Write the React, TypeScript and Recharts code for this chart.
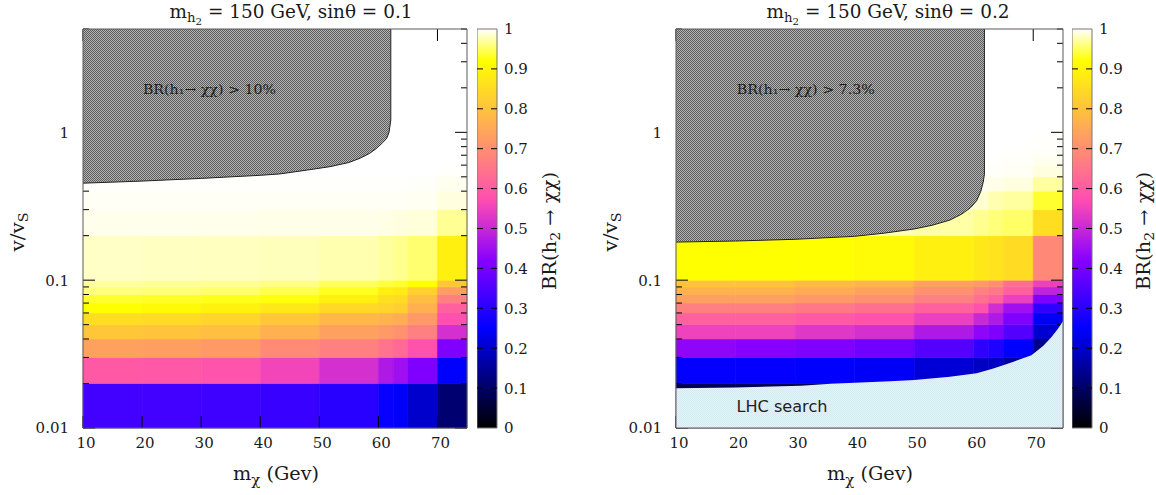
import React from 'react';
import { ComposedChart, XAxis, YAxis, ReferenceArea, ReferenceDot, ReferenceLine, Area } from 'recharts';

// ---------- data ----------
const mChiEdges = [10, 20, 30, 40, 50, 60, 62.5, 65, 70, 75];
const vRatioEdges = [0.01, 0.02, 0.03, 0.04, 0.05, 0.06, 0.07, 0.08, 0.09, 0.1, 0.2, 0.3, 0.4, 0.5, 0.6, 0.7, 0.8, 0.9, 1, 2, 3, 4, 5];

// BR(h2 -> chi chi), rows: v/vS bins bottom->top, cols: m_chi bins
const brSin01 = [
  [0.333, 0.332, 0.328, 0.32, 0.3, 0.26, 0.245, 0.2, 0.11],
  [0.595, 0.592, 0.585, 0.555, 0.515, 0.47, 0.45, 0.41, 0.25],
  [0.735, 0.73, 0.72, 0.69, 0.67, 0.645, 0.625, 0.58, 0.41],
  [0.81, 0.805, 0.795, 0.765, 0.735, 0.72, 0.705, 0.67, 0.515],
  [0.855, 0.85, 0.835, 0.81, 0.78, 0.77, 0.76, 0.72, 0.575],
  [0.92, 0.91, 0.895, 0.875, 0.845, 0.835, 0.825, 0.765, 0.61],
  [0.935, 0.932, 0.928, 0.924, 0.89, 0.86, 0.85, 0.79, 0.67],
  [0.96, 0.958, 0.955, 0.945, 0.93, 0.89, 0.88, 0.83, 0.73],
  [0.97, 0.968, 0.966, 0.962, 0.95, 0.94, 0.935, 0.92, 0.81],
  [0.982, 0.981, 0.98, 0.979, 0.975, 0.97, 0.965, 0.955, 0.89],
  [0.994, 0.994, 0.994, 0.993, 0.993, 0.992, 0.99, 0.988, 0.966],
  [0.997, 0.997, 0.997, 0.997, 0.997, 0.997, 0.997, 0.996, 0.99],
  [0.999, 0.999, 0.999, 0.999, 0.999, 0.999, 0.999, 0.998, 0.995],
  [1, 1, 1, 1, 1, 1, 1, 1, 0.999],
  [1, 1, 1, 1, 1, 1, 1, 1, 1],
  [1, 1, 1, 1, 1, 1, 1, 1, 1],
  [1, 1, 1, 1, 1, 1, 1, 1, 1],
  [1, 1, 1, 1, 1, 1, 1, 1, 1],
  [1, 1, 1, 1, 1, 1, 1, 1, 1],
  [1, 1, 1, 1, 1, 1, 1, 1, 1],
  [1, 1, 1, 1, 1, 1, 1, 1, 1],
  [1, 1, 1, 1, 1, 1, 1, 1, 1],
];

const brSin02 = [
  [0.085, 0.085, 0.08, 0.07, 0.06, 0.05, 0.05, 0.04, 0.03],
  [0.255, 0.255, 0.25, 0.245, 0.21, 0.19, 0.19, 0.16, 0.125],
  [0.43, 0.42, 0.41, 0.39, 0.355, 0.31, 0.29, 0.25, 0.14],
  [0.55, 0.55, 0.53, 0.515, 0.47, 0.43, 0.41, 0.355, 0.205],
  [0.61, 0.61, 0.595, 0.58, 0.545, 0.5, 0.47, 0.41, 0.24],
  [0.67, 0.67, 0.655, 0.64, 0.61, 0.58, 0.51, 0.45, 0.31],
  [0.735, 0.735, 0.72, 0.705, 0.67, 0.64, 0.61, 0.545, 0.41],
  [0.77, 0.77, 0.755, 0.74, 0.705, 0.67, 0.655, 0.61, 0.49],
  [0.8, 0.8, 0.785, 0.77, 0.735, 0.72, 0.7, 0.64, 0.545],
  [0.92, 0.92, 0.92, 0.91, 0.89, 0.875, 0.865, 0.85, 0.686],
  [0.98, 0.978, 0.977, 0.975, 0.972, 0.965, 0.958, 0.952, 0.855],
  [0.99, 0.99, 0.99, 0.99, 0.988, 0.985, 0.975, 0.97, 0.935],
  [0.996, 0.996, 0.996, 0.996, 0.996, 0.995, 0.993, 0.99, 0.97],
  [0.999, 0.999, 0.999, 0.999, 0.999, 0.999, 0.998, 0.997, 0.99],
  [1, 1, 1, 1, 1, 1, 0.999, 0.998, 0.995],
  [1, 1, 1, 1, 1, 1, 1, 0.999, 0.998],
  [1, 1, 1, 1, 1, 1, 1, 1, 0.999],
  [1, 1, 1, 1, 1, 1, 1, 1, 0.999],
  [1, 1, 1, 1, 1, 1, 1, 1, 1],
  [1, 1, 1, 1, 1, 1, 1, 1, 1],
  [1, 1, 1, 1, 1, 1, 1, 1, 1],
  [1, 1, 1, 1, 1, 1, 1, 1, 1],
];

// boundary of BR(h1 -> chi chi) exclusion (grey): m_chi, v/vS
const h1ExclSin01 = [
  { m: 10, v: 0.453 }, { m: 20, v: 0.468 }, { m: 30, v: 0.488 }, { m: 40, v: 0.512 },
  { m: 43.3, v: 0.523 }, { m: 48, v: 0.556 }, { m: 51.8, v: 0.586 }, { m: 55, v: 0.625 },
  { m: 56.9, v: 0.668 }, { m: 58.5, v: 0.72 }, { m: 59.7, v: 0.78 }, { m: 60.7, v: 0.85 },
  { m: 61.4, v: 0.91 }, { m: 61.8, v: 1.0 }, { m: 62.1, v: 1.21 }, { m: 62.1, v: 5 },
];
const h1ExclSin02 = [
  { m: 10, v: 0.181 }, { m: 20, v: 0.184 }, { m: 30, v: 0.189 }, { m: 40, v: 0.198 },
  { m: 45, v: 0.208 }, { m: 50, v: 0.222 }, { m: 53, v: 0.235 }, { m: 56, v: 0.255 },
  { m: 58, v: 0.28 }, { m: 59.5, v: 0.31 }, { m: 60.5, v: 0.345 }, { m: 61.2, v: 0.4 },
  { m: 61.6, v: 0.46 }, { m: 61.8, v: 0.52 }, { m: 61.8, v: 5 },
];
// LHC search exclusion (light blue), sinθ = 0.2
const lhcSin02 = [
  { m: 10, v: 0.0186 }, { m: 20, v: 0.0188 }, { m: 31, v: 0.0193 }, { m: 36, v: 0.0199 },
  { m: 41, v: 0.0203 }, { m: 46, v: 0.0207 }, { m: 50, v: 0.0211 }, { m: 56, v: 0.0222 },
  { m: 60.5, v: 0.0235 }, { m: 63.3, v: 0.0253 }, { m: 66.7, v: 0.0281 }, { m: 69.7, v: 0.031 },
  { m: 71.7, v: 0.036 }, { m: 73, v: 0.041 }, { m: 74, v: 0.046 }, { m: 74.6, v: 0.05 },
  { m: 75, v: 0.053 },
];

const xTicks = [10, 20, 30, 40, 50, 60, 70];
const yTicks = [0.01, 0.02, 0.03, 0.04, 0.05, 0.06, 0.07, 0.08, 0.09, 0.1, 0.2, 0.3, 0.4, 0.5, 0.6, 0.7, 0.8, 0.9, 1, 2, 3, 4, 5];
const yMajorTicks = [0.01, 0.1, 1];
const yMajorLabels = ['0.01', '0.1', '1'];
const cbTicks = [0, 0.1, 0.2, 0.3, 0.4, 0.5, 0.6, 0.7, 0.8, 0.9, 1];
const cbTickLabels = ['0', '0.1', '0.2', '0.3', '0.4', '0.5', '0.6', '0.7', '0.8', '0.9', '1'];

// ---------- palette (gnuplot rgbformulae 30,31,32) ----------
function palette(x: number): string {
  const c = (v: number) => Math.max(0, Math.min(1, v));
  const r = c(x / 0.32 - 0.78125);
  const g = c(2 * x - 0.84);
  let b: number;
  if (x < 0.25) b = 4 * x;
  else if (x < 0.42) b = 1;
  else if (x < 0.92) b = -2 * x + 1.84;
  else b = x / 0.08 - 11.5;
  b = c(b);
  return `rgb(${Math.round(r * 255)},${Math.round(g * 255)},${Math.round(b * 255)})`;
}

const SERIF = 'DejaVu Serif';
const SANS = 'DejaVu Sans';
const TICK_FS = 15;
const MAJOR = 12;
const MINOR = 6;

const num = (v: any) => Number(v);

const leftYLabel = (props: any) => {
  const { x, y, payload } = props;
  const idx = yMajorTicks.indexOf(payload.value);
  if (idx < 0) return <g />;
  return (
    <text x={num(x) - 14} y={num(y)} dy="0.36em" textAnchor="end" fontSize={TICK_FS} fontFamily={SERIF} fill="#1a1a1a">
      {yMajorLabels[idx]}
    </text>
  );
};
const bottomXLabel = (props: any) => {
  const { x, y, payload } = props;
  return (
    <text x={num(x) + 3} y={num(y) + 20} textAnchor="middle" fontSize={TICK_FS} fontFamily={SERIF} fill="#1a1a1a">
      {payload.value}
    </text>
  );
};
const cbLabel = (props: any) => {
  const { x, y, index } = props;
  return (
    <text x={num(x) + 7} y={num(y)} dy="0.36em" textAnchor="start" fontSize={TICK_FS} fontFamily={SERIF} fill="#1a1a1a">
      {cbTickLabels[index]}
    </text>
  );
};

// tick marks pointing inward at both ends of a reference line
const hTickShape = (len: number) => (s: any) => {
  const xa = Math.min(num(s.x1), num(s.x2));
  const xb = Math.max(num(s.x1), num(s.x2));
  const y = num(s.y1);
  return (
    <g>
      <line x1={xa} x2={xa + len} y1={y} y2={y} stroke="#000" strokeWidth={1} />
      <line x1={xb} x2={xb - len} y1={y} y2={y} stroke="#000" strokeWidth={1} />
    </g>
  );
};
const vTickShape = (len: number) => (s: any) => {
  const ya = Math.min(num(s.y1), num(s.y2));
  const yb = Math.max(num(s.y1), num(s.y2));
  const x = num(s.x1);
  return (
    <g>
      <line x1={x} x2={x} y1={ya} y2={ya + len} stroke="#000" strokeWidth={1} />
      <line x1={x} x2={x} y1={yb} y2={yb - len} stroke="#000" strokeWidth={1} />
    </g>
  );
};

type PanelProps = {
  left: number;
  width: number;
  yAxisWidth: number;
  marginRight: number;
  grid: number[][];
  data: any[];
  hasLhc: boolean;
  exclText: string;
  exclWidth: number;
  exclAt: { m: number; v: number };
  lhcAt?: { m: number; v: number };
};

const M_DOMAIN: [number, number] = [10, 75];
const V_DOMAIN: [number, number] = [0.01, 5];

function PlainAxes({ yAxisWidth }: { yAxisWidth: number }) {
  return null;
}

function Panel(p: PanelProps) {
  const margin = { top: 29, right: p.marginRight, bottom: 37, left: 0 };
  const plainX = <XAxis dataKey="m" type="number" domain={M_DOMAIN} allowDataOverflow height={30} tick={false} tickLine={false} axisLine={false} />;
  const plainY = <YAxis type="number" scale="log" domain={V_DOMAIN} allowDataOverflow width={p.yAxisWidth} tick={false} tickLine={false} axisLine={false} />;
  return (
    <>
      {/* layer 1: heat-map cells */}
      <div style={{ position: 'absolute', left: p.left, top: 0 }}>
        <ComposedChart width={p.width} height={495} data={p.data} margin={margin}>
          {plainX}
          {plainY}
          {p.grid.flatMap((row, i) =>
            row.map((val, j) => (
              <ReferenceArea
                key={`c${i}-${j}`}
                x1={mChiEdges[j]}
                x2={mChiEdges[j + 1]}
                y1={vRatioEdges[i]}
                y2={vRatioEdges[i + 1]}
                fill={palette(val)}
                fillOpacity={1}
                stroke={palette(val)}
                strokeWidth={0.6}
              />
            ))
          )}
        </ComposedChart>
      </div>
      {/* layer 2: axes labels and tick marks */}
      <div style={{ position: 'absolute', left: p.left, top: 0 }}>
        <ComposedChart width={p.width} height={495} data={p.data} margin={margin}>
          <XAxis dataKey="m" type="number" domain={M_DOMAIN} allowDataOverflow ticks={xTicks} interval={0} height={30}
            tick={bottomXLabel} tickLine={false} axisLine={false} tickSize={0} tickMargin={0} />
          <YAxis type="number" scale="log" domain={V_DOMAIN} allowDataOverflow ticks={yTicks} interval={0} width={p.yAxisWidth}
            tick={leftYLabel} tickLine={false} axisLine={false} tickSize={0} tickMargin={0} />
          {yTicks.map((v) => (
            <ReferenceLine key={`yt${v}`} y={v} stroke="none" ifOverflow="visible"
              shape={hTickShape(yMajorTicks.indexOf(v) >= 0 ? MAJOR : MINOR)} />
          ))}
          {xTicks.map((v) => (
            <ReferenceLine key={`xt${v}`} x={v} stroke="none" ifOverflow="visible" shape={vTickShape(MAJOR)} />
          ))}
        </ComposedChart>
      </div>
      {/* layer 3: exclusion regions, frame, annotations */}
      <div style={{ position: 'absolute', left: p.left, top: 0 }}>
        <ComposedChart width={p.width} height={495} data={p.data} margin={margin}>
          {plainX}
          {plainY}
          <Area dataKey="excl" type="linear" baseValue={5} fill="url(#hatchGrey)" fillOpacity={1} stroke="#222" strokeWidth={1}
            connectNulls dot={false} activeDot={false} isAnimationActive={false} />
          {p.hasLhc && (
            <Area dataKey="lhc" type="linear" baseValue={0.01} fill="url(#hatchLhc)" fillOpacity={1} stroke="none"
              connectNulls dot={false} activeDot={false} isAnimationActive={false} />
          )}
          <ReferenceArea x1={10} x2={75} y1={0.01} y2={5} fill="none" fillOpacity={0} stroke="#5a5a5a" strokeWidth={1} />
          <ReferenceDot
            x={p.exclAt.m}
            y={p.exclAt.v}
            r={1}
            shape={(s: any) => (
              <text x={s.cx} y={s.cy} dy="0.35em" textAnchor="middle" fontSize={13} fontFamily={SERIF} fill="#1e1e1e"
                textLength={p.exclWidth} lengthAdjust="spacingAndGlyphs">
                {p.exclText}
              </text>
            )}
          />
          {p.lhcAt && (
            <ReferenceDot
              x={p.lhcAt.m}
              y={p.lhcAt.v}
              r={1}
              shape={(s: any) => (
                <text x={s.cx} y={s.cy} dy="0.35em" textAnchor="middle" fontSize={15} fontFamily={SANS} fill="#1e1e1e"
                  textLength={91} lengthAdjust="spacingAndGlyphs">
                  LHC search
                </text>
              )}
            />
          )}
        </ComposedChart>
      </div>
    </>
  );
}

const cbData = [{ x: 0 }, { x: 1 }];

function ColorBar({ left }: { left: number }) {
  const margin = { top: 29, right: 0, bottom: 0, left: 0 };
  return (
    <>
      <div style={{ position: 'absolute', left, top: 0 }}>
        <ComposedChart width={60} height={495} data={cbData} margin={margin}>
          <XAxis dataKey="x" type="number" domain={[0, 1]} allowDataOverflow height={67} tick={false} tickLine={false} axisLine={false} />
          <YAxis orientation="right" type="number" domain={[0, 1]} allowDataOverflow width={40} tick={false} tickLine={false} axisLine={false} />
          <ReferenceArea x1={0} x2={1} y1={0} y2={1} fill="url(#cbGrad)" fillOpacity={1} stroke="none" ifOverflow="visible" />
        </ComposedChart>
      </div>
      <div style={{ position: 'absolute', left, top: 0 }}>
        <ComposedChart width={60} height={495} data={cbData} margin={margin}>
          <XAxis dataKey="x" type="number" domain={[0, 1]} allowDataOverflow height={67} tick={false} tickLine={false} axisLine={false} />
          <YAxis orientation="right" type="number" domain={[0, 1]} allowDataOverflow ticks={cbTicks} interval={0} width={40}
            tick={cbLabel} tickLine={false} axisLine={false} tickSize={0} tickMargin={0} />
          {cbTicks.slice(1, -1).map((v) => (
            <ReferenceLine key={`cb${v}`} y={v} stroke="none" ifOverflow="visible" shape={hTickShape(6)} />
          ))}
          <ReferenceArea x1={0} x2={1} y1={0} y2={1} fill="none" fillOpacity={0} stroke="#777" strokeWidth={1} ifOverflow="visible" />
        </ComposedChart>
      </div>
    </>
  );
}

function Title({ cx, value }: { cx: number; value: string }) {
  return (
    <text x={cx} y={18} textAnchor="middle" fontSize={18} fontFamily={SERIF} fill="#1a1a1a" textLength={243} lengthAdjust="spacingAndGlyphs">
      m<tspan dy={4} fontSize={13}>h</tspan>
      <tspan dy={3} fontSize={10}>2</tspan>
      <tspan dy={-7} fontSize={18}>{` = 150 GeV, sinθ = ${value}`}</tspan>
    </text>
  );
}
function XLabel({ cx }: { cx: number }) {
  return (
    <text x={cx} y={480} textAnchor="middle" fontSize={18} fontFamily={SERIF} fill="#1a1a1a" textLength={86} lengthAdjust="spacingAndGlyphs">
      m<tspan dy={5} fontSize={14}>χ</tspan>
      <tspan dy={-5} fontSize={18}> (Gev)</tspan>
    </text>
  );
}
function YLabel({ x, y }: { x: number; y: number }) {
  return (
    <text x={0} y={0} transform={`translate(${x},${y}) rotate(-90)`} textAnchor="middle" fontSize={18} fontFamily={SERIF} fill="#1a1a1a"
      textLength={39} lengthAdjust="spacingAndGlyphs">
      v/v<tspan dy={4} fontSize={13}>S</tspan>
    </text>
  );
}
function CbTitle({ x, y }: { x: number; y: number }) {
  return (
    <text x={0} y={0} transform={`translate(${x},${y}) rotate(-90)`} textAnchor="middle" fontSize={18} fontFamily={SERIF} fill="#1a1a1a"
      textLength={118} lengthAdjust="spacingAndGlyphs">
      BR(h<tspan dy={4} fontSize={13}>2</tspan>
      <tspan dy={-4} fontSize={18}> → χχ)</tspan>
    </text>
  );
}

const leftData = h1ExclSin01.map((p) => ({ m: p.m, excl: p.v }));
const rightData = [
  ...h1ExclSin02.map((p) => ({ m: p.m, excl: p.v })),
  ...lhcSin02.map((p) => ({ m: p.m, lhc: p.v })),
].sort((a, b) => a.m - b.m);

const gradStops = Array.from({ length: 101 }, (_, i) => i / 100);

export default function App() {
  return (
    <div style={{ position: 'fixed', left: 0, top: 0, width: 1156, height: 495, background: '#fff', overflow: 'hidden' }}>
      <svg width={0} height={0} style={{ position: 'absolute' }}>
        <defs>
          <pattern id="hatchGrey" width="2" height="2" patternUnits="userSpaceOnUse">
            <rect width="2" height="2" fill="#b4b4b4" />
            <rect width="1" height="1" fill="#5c5c5c" />
            <rect x="1" y="1" width="1" height="1" fill="#5c5c5c" />
          </pattern>
          <pattern id="hatchLhc" width="2" height="2" patternUnits="userSpaceOnUse">
            <rect width="2" height="2" fill="#e8f3f8" />
            <rect width="1" height="1" fill="#d3e8f1" />
            <rect x="1" y="1" width="1" height="1" fill="#d3e8f1" />
          </pattern>
          <linearGradient id="cbGrad" x1="0" y1="1" x2="0" y2="0">
            {gradStops.map((t) => (
              <stop key={t} offset={t} stopColor={palette(t)} />
            ))}
          </linearGradient>
        </defs>
      </svg>

      <Panel left={0} width={480} yAxisWidth={83} marginRight={13} grid={brSin01} data={leftData} hasLhc={false}
        exclText="BR(h₁→ χχ) > 10%" exclWidth={133} exclAt={{ m: 31.4, v: 1.94 }} />
      <ColorBar left={477} />

      <Panel left={580} width={500} yAxisWidth={96} marginRight={17} grid={brSin02} data={rightData} hasLhc={true}
        exclText="BR(h₁→ χχ) > 7.3%" exclWidth={138} exclAt={{ m: 31.8, v: 1.94 }} lhcAt={{ m: 27.8, v: 0.0139 }} />
      <ColorBar left={1072} />

      <svg width={1156} height={495} style={{ position: 'absolute', left: 0, top: 0, pointerEvents: 'none' }}>
        <Title cx={291} value="0.1" />
        <XLabel cx={276} />
        <YLabel x={24} y={232} />
        <CbTitle x={556} y={231} />
        <Title cx={888} value="0.2" />
        <XLabel cx={870} />
        <YLabel x={617} y={232} />
        <CbTitle x={1150} y={231} />
      </svg>
    </div>
  );
}
